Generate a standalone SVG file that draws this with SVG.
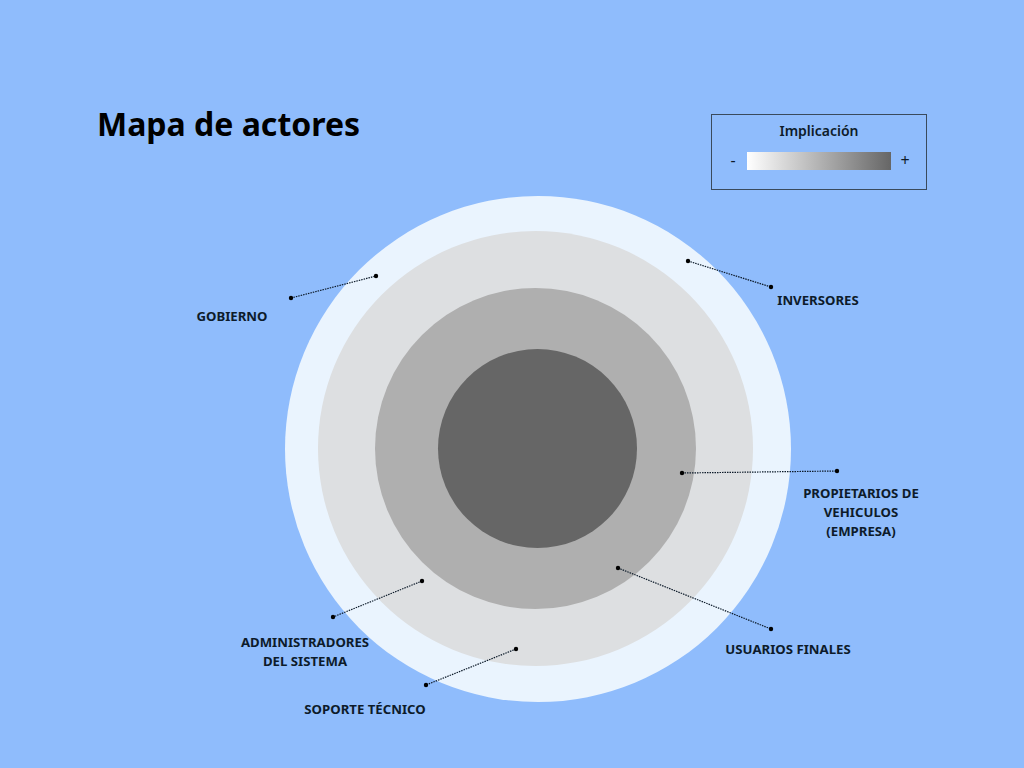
<svg xmlns="http://www.w3.org/2000/svg" width="1024" height="768" viewBox="0 0 1024 768">
<defs>
<linearGradient id="grad" x1="0" y1="0" x2="1" y2="0">
<stop offset="0" stop-color="#ffffff"/>
<stop offset="1" stop-color="#666666"/>
</linearGradient>
<marker id="dot" markerWidth="6" markerHeight="6" refX="3" refY="3" markerUnits="userSpaceOnUse">
<circle cx="3" cy="3" r="2.2" fill="#000"/>
</marker>
</defs>
<style>
.lbl{font-family:"Noto Sans","Liberation Sans",sans-serif;font-weight:bold;font-size:13.2px;fill:#0d1b2a;text-anchor:middle}
.con{stroke:#0d1b2a;stroke-width:1.2;stroke-dasharray:1.5 1;fill:none;marker-start:url(#dot);marker-end:url(#dot)}
</style>
<rect width="1024" height="768" fill="#8fbcfc"/>
<text x="97" y="136" font-family="'Noto Sans','Liberation Sans',sans-serif" font-weight="bold" font-size="32" fill="#000">Mapa de actores</text>
<g id="legend">
<rect x="711.5" y="114.5" width="215" height="75" fill="none" stroke="#3a4a5c" stroke-width="1"/>
<text x="819" y="136" class="lbl" style="font-weight:600;font-size:14px">Implicación</text>
<rect x="747" y="152" width="144" height="18" fill="url(#grad)"/>
<text x="733" y="166" class="lbl" style="font-weight:normal;font-size:16px">-</text>
<text x="905" y="166" class="lbl" style="font-weight:normal;font-size:16px">+</text>
</g>
<g id="rings">
<circle id="ring1" cx="538" cy="449" r="253" fill="#eaf4fe"/>
<circle id="ring2" cx="535.5" cy="448.5" r="217.5" fill="#dddfe1"/>
<circle id="ring3" cx="535.5" cy="448.5" r="160.5" fill="#afafaf"/>
<circle id="ring4" cx="537.5" cy="448.5" r="99.5" fill="#666666"/>
</g>
<g id="connectors">
<line class="con" x1="291" y1="298" x2="376" y2="276"/>
<line class="con" x1="688" y1="261" x2="771" y2="287"/>
<line class="con" x1="682" y1="473" x2="837" y2="471"/>
<line class="con" x1="618" y1="568" x2="771" y2="629"/>
<line class="con" x1="422" y1="581" x2="333" y2="617"/>
<line class="con" x1="516" y1="649" x2="426" y2="685"/>
</g>
<g id="gobierno"><text class="lbl" x="232" y="321">GOBIERNO</text></g>
<g id="inversores"><text class="lbl" x="818" y="305">INVERSORES</text></g>
<g id="propietarios"><text class="lbl" x="861" y="498">PROPIETARIOS DE</text><text class="lbl" x="861" y="517">VEHICULOS</text><text class="lbl" x="861" y="536">(EMPRESA)</text></g>
<g id="usuarios"><text class="lbl" x="788" y="654">USUARIOS FINALES</text></g>
<g id="administradores"><text class="lbl" x="305" y="647">ADMINISTRADORES</text><text class="lbl" x="305" y="666">DEL SISTEMA</text></g>
<g id="soporte"><text class="lbl" x="365" y="714">SOPORTE TÉCNICO</text></g>
</svg>
